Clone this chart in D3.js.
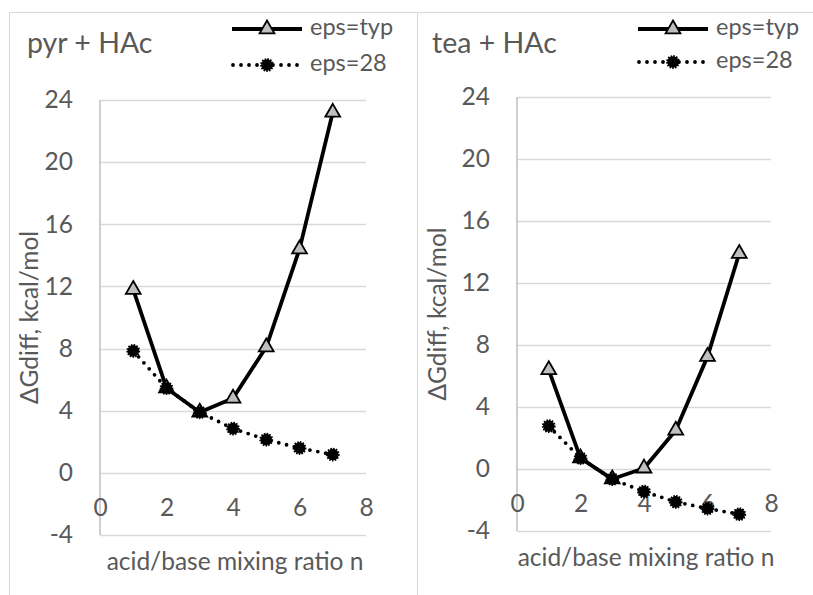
<!DOCTYPE html>
<html><head><meta charset="utf-8">
<script src="https://cdn.jsdelivr.net/npm/d3@7"></script>
<style>
html,body{margin:0;padding:0;background:#fff;}
svg text{font-family:Lato,"Open Sans",sans-serif;fill:#595959;}
</style></head>
<body><svg id="chart" width="813" height="595"></svg>
<script>
const ratios = [1, 2, 3, 4, 5, 6, 7];
const pyrTyp = [11.8, 5.45, 3.9, 4.8, 8.1, 14.4, 23.2];
const pyr28 = [7.85, 5.45, 3.9, 2.85, 2.14, 1.6, 1.18];
const teaTyp = [6.4, 0.7, -0.65, 0.05, 2.5, 7.25, 13.9];
const tea28 = [2.77, 0.7, -0.65, -1.46, -2.12, -2.55, -2.92];
const yTicks = [-4, 0, 4, 8, 12, 16, 20, 24];
const xTicks = [0, 2, 4, 6, 8];
const seriesNames = ["eps=typ", "eps=28"];
const titles = ["pyr + HAc", "tea + HAc"];
const yTitle = "ΔGdiff, kcal/mol";
const xTitle = "acid/base mixing ratio n";

const svg = d3.select("#chart");
const FS = 24.5;

// panel frames
svg.append("rect").attr("x", 9.5).attr("y", 12.5).attr("width", 408).attr("height", 620)
  .attr("fill", "none").attr("stroke", "#d9d9d9").attr("stroke-width", 1);
svg.append("rect").attr("x", 417.5).attr("y", 12.5).attr("width", 420).attr("height", 620)
  .attr("fill", "none").attr("stroke", "#d9d9d9").attr("stroke-width", 1);

const panels = [
  {title: titles[0], typ: pyrTyp, d28: pyr28, px0: 100, px1: 366, pyTop: 100, pyBot: 535,
   titleX: 27, legX: 232, legY1: 29, legY2: 65, yTitleX: 32},
  {title: titles[1], typ: teaTyp, d28: tea28, px0: 517, px1: 771, pyTop: 97, pyBot: 531,
   titleX: 432, legX: 638, legY1: 29, legY2: 62, yTitleX: 440}
];

const triSym = d3.symbol().type(d3.symbolTriangle).size(95);
const fmt = d => String(d);

panels.forEach(p => {
  const g = svg.append("g");
  const x = d3.scaleLinear().domain([0, 8]).range([p.px0, p.px1]);
  const y = d3.scaleLinear().domain([-4, 24]).range([p.pyBot, p.pyTop]);

  // gridlines
  g.selectAll(".grid").data(yTicks).join("line")
    .attr("x1", p.px0).attr("x2", p.px1)
    .attr("y1", d => Math.round(y(d)) + 0.5).attr("y2", d => Math.round(y(d)) + 0.5)
    .attr("stroke", "#d9d9d9").attr("stroke-width", 1.5);

  // y axis line
  g.append("line").attr("x1", x(0)).attr("x2", x(0)).attr("y1", p.pyTop).attr("y2", p.pyBot)
    .attr("stroke", "#bfbfbf").attr("stroke-width", 1.5);

  // y tick labels
  const yAxis = d3.axisLeft(y).tickValues(yTicks).tickFormat(fmt).tickSize(0).tickPadding(27);
  const ya = g.append("g").attr("transform", `translate(${x(0)},0)`).call(yAxis);
  ya.select(".domain").remove();
  ya.selectAll("text").style("font-size", FS + "px").attr("fill", "#595959")
    .style("font-family", "Lato, sans-serif");

  // x tick labels next to zero line
  const xAxis = d3.axisBottom(x).tickValues(xTicks).tickFormat(fmt).tickSize(0).tickPadding(26);
  const xa = g.append("g").attr("transform", `translate(0,${y(0)})`).call(xAxis);
  xa.select(".domain").remove();
  xa.selectAll("text").style("font-size", FS + "px").attr("fill", "#595959")
    .style("font-family", "Lato, sans-serif");

  // axis titles
  g.append("text").attr("x", (p.px0 + p.px1) / 2 + 2).attr("y", p.pyBot + 29)
    .attr("text-anchor", "middle").attr("dominant-baseline", "middle")
    .style("font-size", FS + "px").text(xTitle);
  g.append("text").attr("transform", `translate(${p.yTitleX},${(p.pyTop + p.pyBot) / 2}) rotate(-90)`)
    .attr("text-anchor", "middle").attr("dominant-baseline", "middle")
    .style("font-size", FS + "px").text(yTitle);

  // chart title
  g.append("text").attr("x", p.titleX).attr("y", 53).style("font-size", "28.5px").text(p.title);

  const line = d3.line().x((d, i) => x(ratios[i])).y(d => y(d));

  // eps=typ
  g.append("path").datum(p.typ).attr("d", line).attr("fill", "none")
    .attr("stroke", "#000").attr("stroke-width", 3.8).attr("stroke-linejoin", "round");
  g.selectAll(".tri").data(p.typ).join("path")
    .attr("d", triSym).attr("transform", (d, i) => `translate(${x(ratios[i])},${y(d)})`)
    .attr("fill", "#bfbfbf").attr("stroke", "#000").attr("stroke-width", 1.8);

  // eps=28
  g.append("path").datum(p.d28).attr("d", line).attr("fill", "none")
    .attr("stroke", "#000").attr("stroke-width", 3.8).attr("stroke-dasharray", "0 8")
    .attr("stroke-linecap", "round");
  g.selectAll(".dot").data(p.d28).join("circle")
    .attr("cx", (d, i) => x(ratios[i])).attr("cy", d => y(d)).attr("r", 5.8)
    .attr("fill", "#000").attr("stroke", "#000").attr("stroke-width", 2.2)
    .attr("stroke-dasharray", "1.5 1.2");

  // legend
  const L = g.append("g");
  L.append("line").attr("x1", p.legX).attr("x2", p.legX + 70).attr("y1", p.legY1).attr("y2", p.legY1)
    .attr("stroke", "#000").attr("stroke-width", 3.8);
  L.append("path").attr("d", triSym).attr("transform", `translate(${p.legX + 35},${p.legY1})`)
    .attr("fill", "#bfbfbf").attr("stroke", "#000").attr("stroke-width", 1.8);
  L.append("text").attr("x", p.legX + 78).attr("y", p.legY1).attr("dominant-baseline", "middle")
    .style("font-size", "23.5px").text(seriesNames[0]);
  L.append("line").attr("x1", p.legX + 1).attr("x2", p.legX + 70).attr("y1", p.legY2).attr("y2", p.legY2)
    .attr("stroke", "#000").attr("stroke-width", 3.8).attr("stroke-dasharray", "0 8")
    .attr("stroke-linecap", "round");
  L.append("circle").attr("cx", p.legX + 35).attr("cy", p.legY2).attr("r", 5.8)
    .attr("fill", "#000").attr("stroke", "#000").attr("stroke-width", 2.2)
    .attr("stroke-dasharray", "1.5 1.2");
  L.append("text").attr("x", p.legX + 78).attr("y", p.legY2).attr("dominant-baseline", "middle")
    .style("font-size", "23.5px").text(seriesNames[1]);
});
</script></body></html>
